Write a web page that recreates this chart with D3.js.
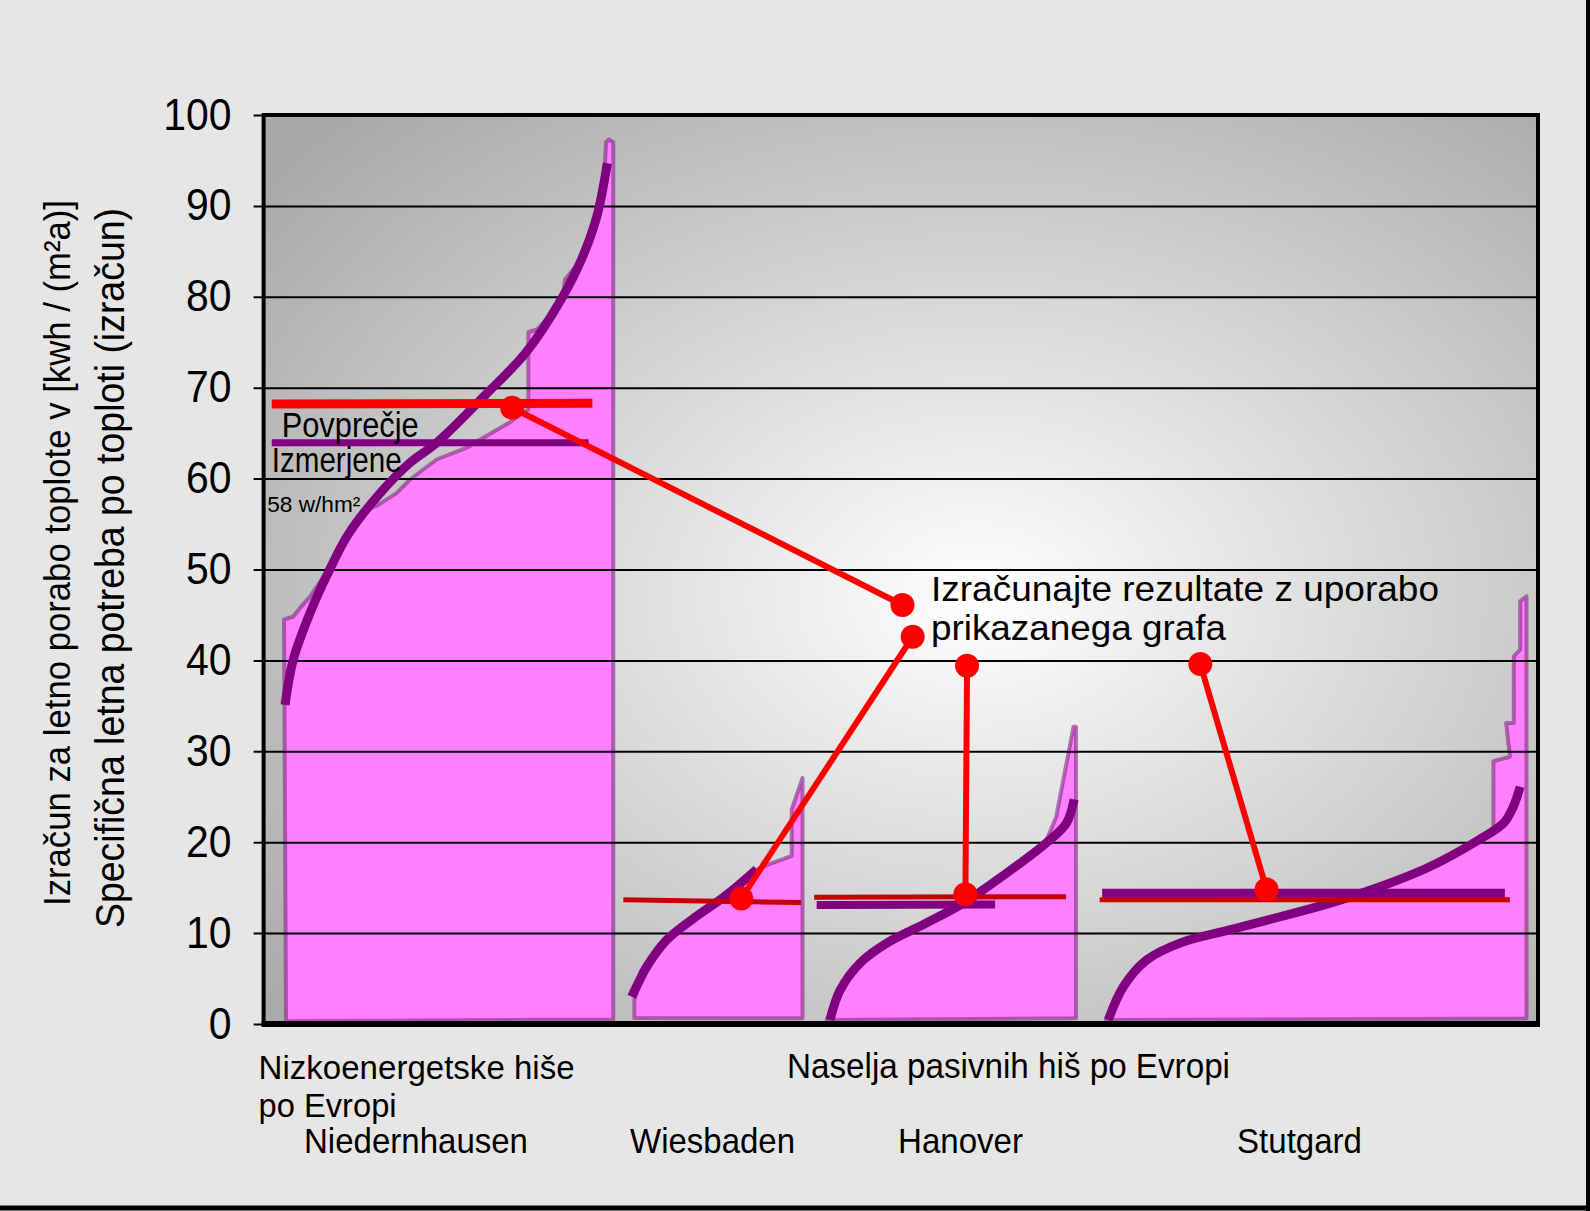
<!DOCTYPE html>
<meta charset="utf-8">
<html>
<head>
<style>
  body { margin: 0; background: #e6e6e6; }
  svg { display: block; }
  text { font-family: "Liberation Sans", Arial, sans-serif; fill: #000; }
</style>
</head>
<body>
<div id="chart"></div>
<script src="https://d3js.org/d3.v7.min.js"></script>
<script>
// ---- data (x = position along the row of houses, 0..100; value = kWh/(m2a)) ----
var yTicks = [0, 10, 20, 30, 40, 50, 60, 70, 80, 90, 100];

var groupNames = ["Niedernhausen", "Wiesbaden", "Hanover", "Stutgard"];

// pink areas: measured values per house (sorted)
var measNied = [[1.76,0.3],[1.6,44.5],[2.3,44.8],[3.0,46.0],[3.64,47.0],[4.97,49.8],[5.8,51.5],[7.0,54.5],
  [8.09,56.6],[8.87,57.0],[10.44,58.4],[11.49,59.9],[13.58,62.1],[15.94,63.4],[17.24,64.5],[19.33,66.2],
  [20.38,67.3],[20.77,67.6],[20.77,76.1],[21.43,76.4],[22.47,77.9],[23.3,79.4],[23.52,80.1],[23.65,81.9],
  [24.83,83.9],[25.5,86.0],[26.2,88.5],[26.66,91.0],[26.87,97.0],[27.1,97.3],[27.44,97.0],[27.44,0.5]];
var measWies = [[29.09,0.66],[29.09,2.64],[29.5,4.5],[30.06,6.3],[31.63,9.25],[33.72,11.6],[36.34,14.2],
  [38.69,17.0],[39.7,17.6],[41.44,18.5],[41.44,23.6],[42.29,27.06],[42.29,0.63]];
var measHan = [[44.19,0.44],[44.6,1.8],[45.23,3.7],[46.8,6.7],[48.9,8.9],[52.0,11.1],[54.9,13.3],[58.3,16.8],
  [61.4,20.1],[62.2,22.8],[63.55,32.7],[63.75,32.7],[63.75,0.63]];
var measStut = [[66.1,0.44],[66.5,1.5],[67.46,4.1],[69.3,7.05],[71.9,8.9],[75.8,10.35],[79.76,11.8],
  [83.7,13.3],[87.6,15.1],[91.5,17.3],[95.4,20.3],[96.5,21.3],[96.5,28.9],[97.8,29.4],[97.5,33.1],
  [98.1,33.1],[98.1,40.45],[98.6,41.2],[98.6,46.5],[99.1,47.06],[99.1,0.6]];

// purple curves: calculated demand
var calcNied = [[1.68,35.1],[2.33,40.1],[3.64,45.2],[4.95,49.3],[6.7,54.0],[9.4,58.8],[11.5,61.75],
  [13.6,63.95],[17.4,69.2],[20.6,73.9],[23.3,79.6],[25.0,84.3],[26.14,88.8],[26.97,94.7]];
var calcWies = [[28.88,3.0],[29.5,4.8],[30.06,6.3],[31.63,9.25],[33.72,11.6],[36.34,14.2],[38.69,17.0]];
var calcHan = [[44.44,0.44],[45.23,3.7],[46.8,6.7],[48.9,8.9],[52.0,11.1],[54.9,13.3],[58.3,16.6],
  [61.4,19.9],[63.0,22.1],[63.6,24.7]];
var calcStut = [[66.28,0.44],[67.46,4.1],[69.3,7.05],[71.9,8.9],[75.8,10.35],[79.76,11.8],[83.7,13.3],
  [87.6,15.1],[91.5,17.3],[95.4,20.3],[97.3,22.1],[98.06,23.9],[98.6,26.1]];

// averages: [x start, x end, value start, value end]
var avgCalcNied = [0.64, 25.8, 68.2, 68.3];
var avgMeasNied = [0.64, 25.5, 63.95, 63.95];
var avgCalcWies = [28.23, 42.17, 13.66, 13.36];
var avgCalcHan = [43.2, 62.97, 13.95, 14.0];
var avgMeasHan = [43.4, 57.4, 13.1, 13.15];
var avgMeasStut = [65.8, 97.4, 14.39, 14.39];
var avgCalcStut = [65.6, 97.8, 13.66, 13.66];

// red pointer lines from the averages to the note
var pointers = [
  [[19.5, 67.8], [50.13, 46.1]],
  [[37.48, 13.8], [50.93, 42.6]],
  [[55.07, 14.27], [55.2, 39.4]],
  [[78.7, 14.8], [73.5, 39.6]]
];

// ---- layout ----
var W = 1590, H = 1211;
var plot = {left: 263.6, right: 1538, top: 115, bottom: 1024};

var svg = d3.select("#chart").append("svg")
    .attr("width", W)
    .attr("height", H);

var defs = svg.append("defs");
var grad = defs.append("radialGradient")
    .attr("id", "bg")
    .attr("cx", 0.56).attr("cy", 0.53).attr("r", 0.72);
grad.append("stop").attr("offset", "0%").attr("stop-color", "#ffffff");
grad.append("stop").attr("offset", "100%").attr("stop-color", "#a9a9a9");

var x = d3.scaleLinear().domain([0, 100]).range([plot.left, plot.right]);
var y = d3.scaleLinear().domain([0, 100]).range([plot.bottom, plot.top]);

// plot background
svg.append("rect")
    .attr("x", plot.left).attr("y", plot.top)
    .attr("width", plot.right - plot.left)
    .attr("height", plot.bottom - plot.top)
    .attr("fill", "url(#bg)");

var line = d3.line()
    .x(function(d) { return x(d[0]); })
    .y(function(d) { return y(d[1]); });

// pink areas
[measNied, measWies, measHan, measStut].forEach(function(m) {
  svg.append("path")
      .attr("d", line.curve(d3.curveLinear)(m) + "Z")
      .attr("fill", "#ff80ff")
      .attr("stroke", "rgba(130,40,130,0.6)")
      .attr("stroke-width", 4)
      .attr("stroke-linejoin", "round");
});

// y axis + grid
var yAxis = svg.append("g")
    .attr("transform", "translate(" + plot.left + ",0)")
    .call(d3.axisLeft(y)
      .tickValues(yTicks)
      .tickSize(-(plot.right - plot.left))
      .tickPadding(32));
yAxis.select(".domain").remove();
yAxis.selectAll(".tick line")
    .attr("x1", -10)
    .attr("stroke", "#000")
    .attr("stroke-width", 2);
yAxis.selectAll(".tick text")
    .attr("font-size", 44)
    .attr("font-family", "Liberation Sans, Arial, sans-serif")
    .attr("fill", "#000")
    .attr("lengthAdjust", "spacingAndGlyphs")
    .attr("textLength", function() { return this.getComputedTextLength() * 0.93; });

// purple curves (calculated)
[calcNied, calcWies, calcHan, calcStut].forEach(function(c) {
  svg.append("path")
      .attr("d", line.curve(d3.curveCatmullRom.alpha(0.5))(c))
      .attr("fill", "none")
      .attr("stroke", "#800080")
      .attr("stroke-width", 9);
});

// average lines
function avgLine(a, color, w) {
  svg.append("line")
      .attr("x1", x(a[0])).attr("x2", x(a[1]))
      .attr("y1", y(a[2])).attr("y2", y(a[3]))
      .attr("stroke", color)
      .attr("stroke-width", w);
}
avgLine(avgCalcWies, "#c80000", 5);
avgLine(avgMeasHan, "#800080", 8);
avgLine(avgCalcHan, "#c80000", 5);
avgLine(avgMeasStut, "#800080", 9);
avgLine(avgCalcStut, "#c80000", 5);
avgLine(avgMeasNied, "#800080", 7);
avgLine(avgCalcNied, "#ff0000", 9);

// pointers and dots
pointers.forEach(function(p) {
  svg.append("line")
      .attr("x1", x(p[0][0])).attr("y1", y(p[0][1]))
      .attr("x2", x(p[1][0])).attr("y2", y(p[1][1]))
      .attr("stroke", "#ff0000")
      .attr("stroke-width", 6);
  p.forEach(function(d) {
    svg.append("circle")
        .attr("cx", x(d[0])).attr("cy", y(d[1]))
        .attr("r", 12)
        .attr("fill", "#ff0000");
  });
});

// plot frame
svg.append("rect")
    .attr("x", plot.left).attr("y", plot.top)
    .attr("width", plot.right - plot.left)
    .attr("height", plot.bottom - plot.top)
    .attr("fill", "none")
    .attr("stroke", "#000")
    .attr("stroke-width", 4);
svg.append("line")
    .attr("x1", plot.left - 2).attr("x2", plot.right + 2)
    .attr("y1", plot.bottom).attr("y2", plot.bottom)
    .attr("stroke", "#000").attr("stroke-width", 6);

// page frame (right and bottom)
svg.append("line").attr("x1", W - 2).attr("x2", W - 2).attr("y1", 0).attr("y2", H)
    .attr("stroke", "#000").attr("stroke-width", 4);
svg.append("line").attr("x1", 0).attr("x2", W).attr("y1", H - 3).attr("y2", H - 3)
    .attr("stroke", "#000").attr("stroke-width", 5);

// texts
function label(t, px, py, size, len) {
  var el = svg.append("text")
      .attr("x", px).attr("y", py)
      .attr("font-size", size)
      .text(t);
  if (len) el.attr("textLength", len).attr("lengthAdjust", "spacingAndGlyphs");
  return el;
}

// y axis titles
svg.append("text")
    .attr("transform", "translate(70,553) rotate(-90)")
    .attr("text-anchor", "middle")
    .attr("font-size", 37)
    .attr("textLength", 706).attr("lengthAdjust", "spacingAndGlyphs")
    .text("Izračun za letno porabo toplote v [kwh / (m²a)]");
svg.append("text")
    .attr("transform", "translate(124,568) rotate(-90)")
    .attr("text-anchor", "middle")
    .attr("font-size", 40)
    .attr("textLength", 720).attr("lengthAdjust", "spacingAndGlyphs")
    .text("Specifična letna potreba po toploti (izračun)");

// category labels
label("Nizkoenergetske hiše", 258.6, 1079, 34, 316);
label("po Evropi", 258.6, 1117, 34, 138);
label("Naselja pasivnih hiš po Evropi", 787, 1078, 35, 443);
label(groupNames[0], 304, 1153, 35, 224);
label(groupNames[1], 630, 1153, 35, 165);
label(groupNames[2], 898, 1153, 35, 125);
label(groupNames[3], 1237, 1153, 35, 125);

// note in the plot
label("Izračunajte rezultate z uporabo", 931, 601, 35, 508);
label("prikazanega grafa", 931, 640, 35, 295);

label("Povprečje", 281.7, 436.7, 35, 137);
label("Izmerjene", 271.7, 471.7, 35, 130);
label("58 w/hm²", 267.3, 511.7, 22, 93);
</script>
</body>
</html>
